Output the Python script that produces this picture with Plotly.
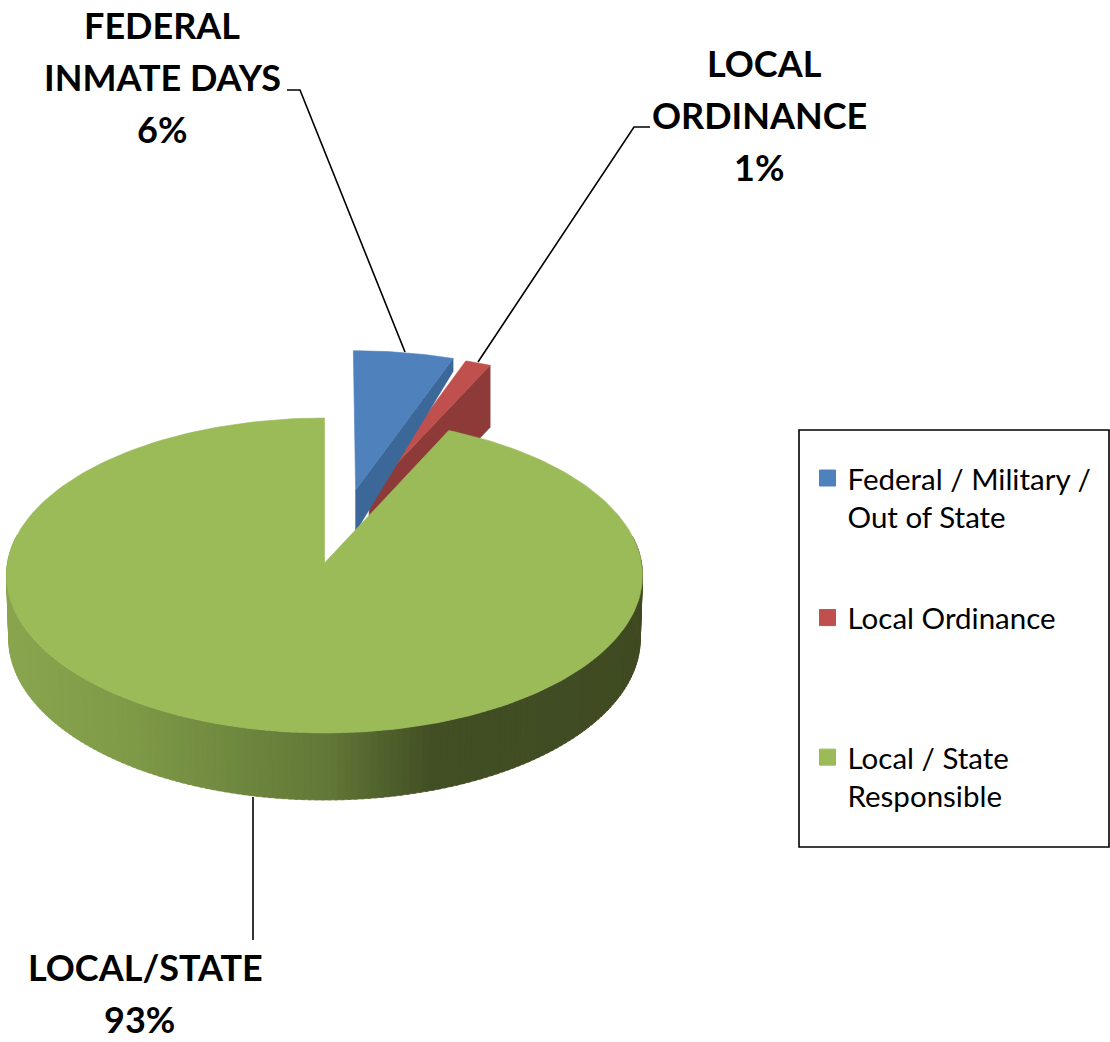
import math
import plotly.graph_objects as go

# ---- data ----
categories = ["&nbsp;<br>Federal / Military /<br>Out of State", "&nbsp;<br>Local Ordinance<br>&nbsp;", "&nbsp;<br>Local / State<br>Responsible"]
values = [5.5, 1.4, 93.1]
callouts = [["FEDERAL", "INMATE DAYS", "6%"], ["LOCAL", "ORDINANCE", "1%"], ["LOCAL/STATE", "93%"]]

# ---- style ----
top_colors = ["#4f81bd", "#c0504d", "#9bbb59"]
wall_colors = ["#3c6899", "#8e3a38", "#5f7436"]
explode = [(0.102, 0.485), (0.146, 0.465), (0.0, 0.0)]     # in units of the pie radius
scale = [1.035, 1.035, 1.0]
wall_rim_depth = [13, 62]
wall_apex_depth = [42, 62]
W, H = 1110, 1042
CX, CY, A, B, K, DEPTH = 324.5, 563.0, 156.5, 317.0, 0.0794, 67.0
side_stops = [(6, (137, 165, 78)), (120, (128, 155, 72)), (325, (98, 120, 55)), (430, (66, 79, 36)), (643, (63, 74, 34))]


def project(u, v, drop=0.0):
    d = 1 + K * v
    shrink = 1 - 0.007 * drop / DEPTH
    return CX + shrink * B * u / d, CY - A * v / d + drop * (1 - 0.12 * (v + 1) / 2)


def rim(a0, a1, off=(0, 0), drop=0.0, n=60, s=1.0):
    pts = []
    for i in range(n + 1):
        t = math.radians(a0 + (a1 - a0) * i / n)
        pts.append(project(off[0] + s * math.sin(t), off[1] + s * math.cos(t), drop))
    return pts


def side_color(x):
    for (x0, c0), (x1, c1) in zip(side_stops, side_stops[1:]):
        if x <= x1:
            f = max(0.0, (x - x0) / (x1 - x0))
            return "rgb(%d,%d,%d)" % tuple(round(p + (q - p) * f) for p, q in zip(c0, c1))
    return "rgb(%d,%d,%d)" % side_stops[-1][1]


fig = go.Figure()


def poly(pts, color, line=None):
    xs = [p[0] for p in pts] + [pts[0][0]]
    ys = [p[1] for p in pts] + [pts[0][1]]
    fig.add_trace(go.Scatter(x=xs, y=ys, mode="lines", fill="toself", fillcolor=color,
                             line=dict(color=line or color, width=0.6), showlegend=False, hoverinfo="skip"))


# slice angles from the values (clockwise from twelve o'clock)
total = sum(values)
edges = [0.0]
for val in values:
    edges.append(edges[-1] + 360.0 * val / total)

# the two exploded slices, back to front
for i in (1, 0):
    a0, a1 = edges[i], edges[i + 1]
    apex = project(*explode[i])
    end = rim(a1, a1, explode[i], n=1, s=scale[i])[0]
    poly([end, (end[0], end[1] + wall_rim_depth[i]), (apex[0], apex[1] + wall_apex_depth[i]), apex], wall_colors[i])
    poly([apex] + rim(a0, a1, explode[i], n=24, s=scale[i]), top_colors[i])

# rim wall of the large slice, shaded strip by strip
steps = 180
for st in range(steps):
    t0 = 80 + 200.0 * st / steps
    t1 = 80 + 200.0 * (st + 1.5) / steps
    up = rim(t0, t1, n=2)
    low = rim(t1, t0, drop=DEPTH, n=2)
    poly(up + low, side_color((up[0][0] + up[-1][0]) / 2))

# top face of the large slice
poly([project(0, 0)] + rim(edges[2], edges[3], n=260), top_colors[2])

# leader lines
leaders = [([287, 300, 405], [90, 90, 352]), ([650, 634, 478], [127, 127, 362]), ([253, 253], [797, 940])]
for lx, ly in leaders:
    fig.add_trace(go.Scatter(x=lx, y=ly, mode="lines", line=dict(color="#000000", width=1.6),
                             showlegend=False, hoverinfo="skip"))

# legend entries
for name, col in zip(categories, top_colors):
    fig.add_trace(go.Scatter(x=[None], y=[None], mode="markers", name=name, legendgroup=name,
                             marker=dict(symbol="square", size=16, color=col, line=dict(color=col, width=1))))

# callout text, one annotation per line
label_x = [[162, 162, 162], [764, 759, 758.5], [145, 139.5]]
label_y = [25, 63, 967]
for lines, xs, ly in zip(callouts, label_x, label_y):
    for n, txt in enumerate(lines):
        fig.add_annotation(x=xs[n], y=ly + 52 * n, text="<b>%s</b>" % txt, showarrow=False, xanchor="center",
                           yanchor="middle", font=dict(family="Lato", size=36, color="#000000"))

fig.add_shape(type="rect", x0=799, x1=1109, y0=430, y1=847, line=dict(color="#000000", width=1.6), fillcolor="white", layer="below")

fig.update_layout(
    width=W, height=H, margin=dict(l=0, r=0, t=0, b=0), plot_bgcolor="white", paper_bgcolor="white",
    xaxis=dict(range=[0, W], visible=False, fixedrange=True),
    yaxis=dict(range=[H, 0], visible=False, fixedrange=True),
    font=dict(family="Lato", color="#000000"),
    legend=dict(x=807.5 / W, xanchor="left", y=1 - 414 / H, yanchor="top", bgcolor="rgba(0,0,0,0)", borderwidth=0,
                tracegroupgap=21.5, font=dict(family="Lato", size=29.5, color="#000000")),
)
fig.write_html("out.html", config={"displayModeBar": False},
               post_script="document.body.style.margin='0';")
